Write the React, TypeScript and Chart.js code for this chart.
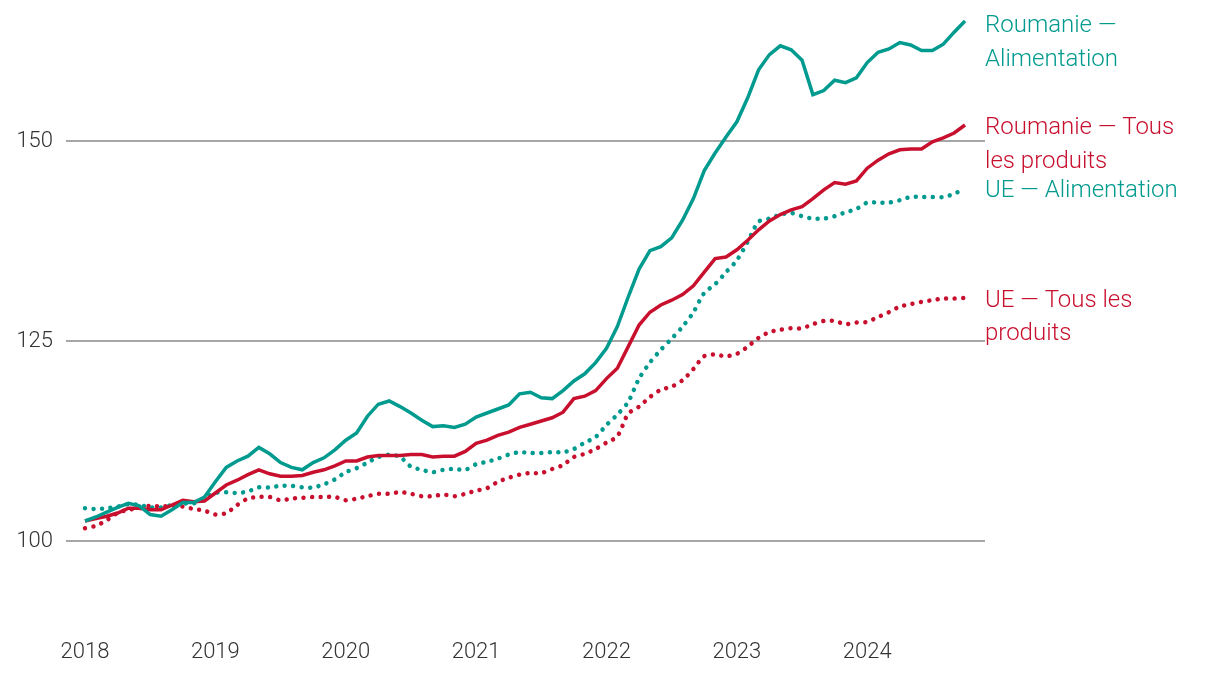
import React, { useEffect, useRef } from "react";
import { Chart, registerables } from "chart.js";

Chart.register(...registerables);

const xLabels = ["2018", "2019", "2020", "2021", "2022", "2023", "2024"];
const yTicks = [100, 125, 150];

const roFood = [
  102.5, 103.0, 103.6, 104.2, 104.7, 104.4, 103.3, 103.1, 103.9, 104.8, 104.8, 105.5,
  107.4, 109.2, 110.0, 110.6, 111.7, 110.9, 109.8, 109.2, 108.9, 109.8, 110.4, 111.4,
  112.6, 113.5, 115.6, 117.1, 117.5, 116.8, 116.0, 115.1, 114.3, 114.4, 114.2, 114.6,
  115.5, 116.0, 116.5, 117.0, 118.4, 118.6, 117.9, 117.8, 118.8, 120.0, 120.9, 122.3,
  124.1, 126.8, 130.5, 134.0, 136.3, 136.8, 137.9, 140.1, 142.8, 146.3, 148.5, 150.5,
  152.4, 155.4, 158.9, 160.8, 161.9, 161.4, 160.1, 155.8, 156.3, 157.6, 157.3, 157.9,
  159.8, 161.1, 161.5, 162.3, 162.0, 161.3, 161.3, 162.1, 163.6, 165.0,
];

const roAll = [
  102.5, 102.8, 103.1, 103.5, 104.1, 104.1, 103.9, 103.9, 104.5, 105.1, 104.9, 105.0,
  106.0, 107.0, 107.6, 108.3, 108.9, 108.4, 108.1, 108.1, 108.2, 108.6, 108.9, 109.4,
  110.0, 110.0, 110.5, 110.7, 110.7, 110.7, 110.8, 110.8, 110.5, 110.6, 110.6, 111.2,
  112.2, 112.6, 113.2, 113.6, 114.2, 114.6, 115.0, 115.4, 116.1, 117.8, 118.1, 118.8,
  120.3, 121.6, 124.3, 127.0, 128.6, 129.5, 130.1, 130.8, 131.9, 133.6, 135.3, 135.5,
  136.4, 137.6, 138.9, 140.0, 140.8, 141.4, 141.8, 142.8, 143.9, 144.8, 144.6, 145.0,
  146.6, 147.6, 148.4, 148.9, 149.0, 149.0, 149.9, 150.4, 151.0, 152.0,
];

const euFood = [
  104.1, 104.0, 104.1, 104.3, 104.6, 104.5, 104.2, 104.2, 104.5, 104.7, 104.7, 105.4,
  106.0, 106.1, 106.0, 106.2, 106.7, 106.7, 106.9, 106.9, 106.7, 106.7, 107.1, 107.7,
  108.6, 109.1, 109.8, 110.5, 110.8, 110.5, 109.3, 108.9, 108.6, 108.9, 109.0, 108.9,
  109.6, 109.9, 110.3, 110.8, 111.1, 111.0, 111.0, 111.1, 111.1, 111.5, 112.3, 113.0,
  114.5, 115.8, 117.4, 120.3, 122.3, 123.9, 125.3, 126.8, 128.6, 131.0, 132.1, 133.6,
  135.1, 137.4, 139.9, 140.3, 140.8, 141.0, 140.6, 140.3, 140.3, 140.6, 141.1, 141.5,
  142.3, 142.3, 142.3, 142.6, 143.0, 143.0, 143.0, 143.0, 143.4, 144.1,
];

const euAll = [
  101.6, 101.9, 102.6, 103.5, 103.9, 104.1, 104.4, 104.3, 104.4, 104.3, 104.0, 103.8,
  103.3, 103.5, 104.5, 105.3, 105.5, 105.5, 105.1, 105.3, 105.4, 105.5, 105.5, 105.5,
  105.1, 105.3, 105.6, 105.9, 105.9, 106.1, 105.9, 105.6, 105.6, 105.8, 105.6, 105.9,
  106.3, 106.6, 107.4, 107.9, 108.3, 108.5, 108.5, 109.0, 109.5, 110.5, 110.9, 111.5,
  112.3, 113.1, 115.9, 116.8, 118.0, 118.9, 119.3, 120.1, 121.5, 123.1, 123.3, 123.1,
  123.4, 124.3, 125.4, 126.1, 126.4, 126.6, 126.6, 127.1, 127.5, 127.5, 127.1, 127.3,
  127.4, 128.0, 128.6, 129.3, 129.6, 129.9, 130.1, 130.3, 130.3, 130.4,
];

const seriesNames = [
  ["Roumanie —", "Alimentation"],
  ["Roumanie — Tous", "les produits"],
  ["UE — Alimentation"],
  ["UE — Tous les", "produits"],
];

const TEAL = "#009a8e";
const RED = "#c8102e";

const toPoints = (arr: number[]) => arr.map((v, i) => ({ x: i, y: v }));

const endLabels = {
  id: "endLabels",
  afterDatasetsDraw(chart: any) {
    const ctx = chart.ctx;
    const ys = chart.scales.y;
    const left = chart.chartArea.right;
    ctx.save();
    ctx.font = "300 24px Roboto";
    ctx.textAlign = "left";
    ctx.textBaseline = "alphabetic";
    chart.data.datasets.forEach((ds: any, i: number) => {
      const last = ds.data[ds.data.length - 1].y;
      let y = ys.getPixelForValue(last);
      if (y < 23) y = 23;
      ctx.fillStyle = ds.borderColor;
      seriesNames[i].forEach((line, j) => {
        ctx.fillText(line, left, y + 9 + j * 33.5);
      });
    });
    ctx.restore();
  },
};

export default function App() {
  const ref = useRef<HTMLCanvasElement>(null);

  useEffect(() => {
    if (!ref.current) return;
    const chart = new Chart(ref.current, {
      type: "line",
      data: {
        datasets: [
          {
            label: "Roumanie — Alimentation",
            data: toPoints(roFood),
            borderColor: TEAL,
            borderWidth: 3.5,
            pointRadius: 0,
            tension: 0,
            clip: false,
          },
          {
            label: "Roumanie — Tous les produits",
            data: toPoints(roAll),
            borderColor: RED,
            borderWidth: 3.5,
            pointRadius: 0,
            tension: 0,
            clip: false,
          },
          {
            label: "UE — Alimentation",
            data: toPoints(euFood),
            borderColor: TEAL,
            borderWidth: 4.5,
            borderDash: [0.01, 8.5],
            borderCapStyle: "round",
            pointRadius: 0,
            tension: 0.3,
            clip: false,
          },
          {
            label: "UE — Tous les produits",
            data: toPoints(euAll),
            borderColor: RED,
            borderWidth: 4.5,
            borderDash: [0.01, 8.5],
            borderCapStyle: "round",
            pointRadius: 0,
            tension: 0.3,
            clip: false,
          },
        ],
      },
      options: {
        responsive: false,
        animation: false,
        devicePixelRatio: 1,
        layout: { padding: { left: 0, right: 235, top: 5, bottom: 0 } },
        plugins: {
          legend: { display: false },
          tooltip: { enabled: false },
        },
        scales: {
          x: {
            type: "linear",
            min: -1.749,
            max: 82.84,
            grid: { display: false, drawTicks: false },
            border: { display: false },
            afterBuildTicks: (scale: any) => {
              scale.ticks = xLabels.map((_, i) => ({ value: i * 12 }));
            },
            afterFit: (scale: any) => {
              scale.height = 63;
              scale.paddingLeft = 0;
              scale.paddingRight = 0;
            },
            ticks: {
              autoSkip: false,
              maxRotation: 0,
              padding: 18,
              color: "#333333",
              font: { family: "Roboto", size: 22, weight: "300" },
              callback: (v: any) => xLabels[Math.round(Number(v) / 12)] ?? "",
            },
          },
          y: {
            min: 90,
            max: 167,
            grid: { color: "#a6a6a6", lineWidth: 2, drawTicks: false },
            border: { display: false },
            afterBuildTicks: (scale: any) => {
              scale.ticks = yTicks.map((v) => ({ value: v }));
            },
            afterFit: (scale: any) => {
              scale.width = 66;
              scale.paddingTop = 0;
              scale.paddingBottom = 0;
            },
            ticks: {
              padding: 13,
              color: "#333333",
              font: { family: "Roboto", size: 22, weight: "300" },
            },
          },
        },
      },
      plugins: [endLabels],
    });
    return () => chart.destroy();
  }, []);

  return (
    <div style={{ position: "fixed", left: 0, top: 0, width: 1220, height: 684, background: "#fff" }}>
      <canvas ref={ref} width={1220} height={684} style={{ width: 1220, height: 684, display: "block" }} />
    </div>
  );
}
